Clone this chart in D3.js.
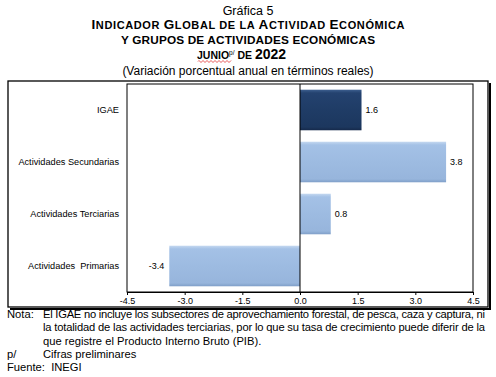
<!DOCTYPE html>
<html>
<head>
  <meta charset="utf-8">
  <title>IGAE junio 2022</title>
  <style>
    body { margin: 0; background: #fff; }
    svg { display: block; font-family: "Liberation Sans", Arial, sans-serif; }
  </style>
</head>
<body>
  <svg id="chart" width="496" height="377"></svg>

  <script src="https://d3js.org/d3.v7.min.js"></script>
  <script>
    // datos
    const categories = ["IGAE", "Actividades Secundarias", "Actividades Terciarias", "Actividades  Primarias"];
    const values = [1.6, 3.8, 0.8, -3.4];
    const barColors = ["dark", "light", "light", "light"];
    const tickValues = [-4.5, -3.0, -1.5, 0.0, 1.5, 3.0, 4.5];

    const fmt = d => d.toFixed(1);

    const svg = d3.select("#chart");
    const defs = svg.append("defs");

    // degradados de las barras
    function grad(id, stops) {
      const g = defs.append("linearGradient").attr("id", id)
        .attr("x1", 0).attr("y1", 0).attr("x2", 0).attr("y2", 1);
      stops.forEach(s => g.append("stop").attr("offset", s[0]).attr("stop-color", s[1]));
    }
    grad("g-light", [[0, "#c4d8f0"], [0.08, "#a4c1e6"], [0.5, "#9dbbe1"], [0.92, "#97b5dc"], [1, "#7f9fc8"]]);
    grad("g-dark", [[0, "#3d5f8f"], [0.08, "#24426f"], [0.5, "#1f3c66"], [0.92, "#1c375e"], [1, "#15294a"]]);

    // titulo
    const cx = 248;
    svg.append("text").attr("x", cx).attr("y", 15).attr("text-anchor", "middle")
      .attr("font-size", 12.5).text("Gráfica 5");

    const t2 = svg.append("text").attr("x", cx).attr("y", 29).attr("text-anchor", "middle")
      .attr("font-weight", "bold").attr("textLength", 313).attr("lengthAdjust", "spacing");
    [["I", 13.5], ["NDICADOR ", 11], ["G", 13.5], ["LOBAL DE LA ", 11], ["A", 13.5],
     ["CTIVIDAD ", 11], ["E", 13.5], ["CONÓMICA", 11]].forEach(p =>
      t2.append("tspan").attr("font-size", p[1]).text(p[0]));

    svg.append("text").attr("x", cx).attr("y", 44).attr("text-anchor", "middle")
      .attr("font-weight", "bold").attr("font-size", 11.8)
      .attr("textLength", 254).attr("lengthAdjust", "spacing")
      .text("Y GRUPOS DE ACTIVIDADES ECONÓMICAS");

    const t4 = svg.append("text").attr("x", 197).attr("y", 59).attr("font-weight", "bold");
    t4.append("tspan").attr("font-size", 10.5).text("JUNIO");
    t4.append("tspan").attr("font-size", 6.5).attr("font-weight", "normal").attr("dy", -4).text("p/");
    t4.append("tspan").attr("font-size", 10.5).attr("dy", 4).text(" DE ");
    t4.append("tspan").attr("font-size", 14).text("2022");

    // subrayado ondulado rojo bajo JUNIO
    let wave = "M198,61.5";
    for (let x = 198; x < 232; x += 2) wave += "L" + (x + 1) + "," + ((x / 2) % 2 ? 60.5 : 62.5);
    svg.append("path").attr("d", wave).attr("fill", "none").attr("stroke", "#e03030").attr("stroke-width", 0.8);

    svg.append("text").attr("x", cx).attr("y", 75).attr("text-anchor", "middle")
      .attr("font-size", 12).text("(Variación porcentual anual en términos reales)");

    // marco exterior con sombra
    svg.append("path").attr("d", "M490,83V309H10").attr("fill", "none")
      .attr("stroke", "#000").attr("stroke-width", 2);
    svg.append("rect").attr("x", 8).attr("y", 81).attr("width", 480).attr("height", 226)
      .attr("fill", "#fff").attr("stroke", "#000").attr("stroke-width", 1.3);

    // escalas
    const x = d3.scaleLinear().domain([-4.5, 4.5]).range([127, 473]);
    const y = d3.scaleBand().domain(categories).range([84, 292])
      .paddingInner(0.22).paddingOuter(0.11);

    // area de trazado
    svg.append("rect").attr("x", 127).attr("y", 84).attr("width", 346).attr("height", 208)
      .attr("fill", "none").attr("stroke", "#000").attr("stroke-width", 1);

    // barras
    svg.selectAll(".bar").data(categories).enter().append("rect")
      .attr("class", "bar")
      .attr("x", (d, i) => x(Math.min(0, values[i])))
      .attr("y", d => y(d))
      .attr("width", (d, i) => Math.abs(x(values[i]) - x(0)))
      .attr("height", y.bandwidth())
      .attr("fill", (d, i) => barColors[i] === "dark" ? "url(#g-dark)" : "url(#g-light)");

    // linea del cero
    svg.append("line").attr("x1", x(0)).attr("x2", x(0)).attr("y1", 84).attr("y2", 292)
      .attr("stroke", "#000").attr("stroke-width", 1);

    // etiquetas de valor
    svg.selectAll(".val").data(categories).enter().append("text")
      .attr("class", "val")
      .attr("x", (d, i) => values[i] >= 0 ? x(values[i]) + 4 : x(values[i]) - 5)
      .attr("y", d => y(d) + y.bandwidth() / 2)
      .attr("dy", "0.35em")
      .attr("text-anchor", (d, i) => values[i] >= 0 ? "start" : "end")
      .attr("font-size", 9)
      .text((d, i) => fmt(values[i]));

    // etiquetas de categoria
    svg.selectAll(".cat").data(categories).enter().append("text")
      .attr("class", "cat")
      .attr("x", 119)
      .attr("y", d => y(d) + y.bandwidth() / 2)
      .attr("dy", "0.35em")
      .attr("text-anchor", "end")
      .attr("font-size", 9.2)
      .style("white-space", "pre")
      .text(d => d);

    // eje x
    const gx = svg.append("g")
      .attr("transform", "translate(0,292)")
      .call(d3.axisBottom(x).tickValues(tickValues).tickFormat(fmt)
        .tickSize(3).tickPadding(3));
    gx.select(".domain").attr("stroke", "#000");
    gx.selectAll("text").attr("font-size", 9).attr("font-family", null).attr("fill", "#000");

    // notas
    const notes = svg.append("g").attr("font-size", 11.2);
    notes.append("text").attr("x", 7).attr("y", 318).text("Nota:");
    notes.append("text").attr("x", 43).attr("y", 318)
      .attr("textLength", 442).attr("lengthAdjust", "spacing")
      .text("El IGAE no incluye los subsectores de aprovechamiento forestal, de pesca, caza y captura, ni");
    notes.append("text").attr("x", 43).attr("y", 331)
      .attr("textLength", 442).attr("lengthAdjust", "spacing")
      .text("la totalidad de las actividades terciarias, por lo que su tasa de crecimiento puede diferir de la");
    notes.append("text").attr("x", 43).attr("y", 345)
      .text("que registre el Producto Interno Bruto (PIB).");
    notes.append("text").attr("x", 7).attr("y", 358).text("p/");
    notes.append("text").attr("x", 43).attr("y", 358).text("Cifras preliminares");
    notes.append("text").attr("x", 7).attr("y", 371).style("white-space", "pre").text("Fuente:  INEGI");
  </script>
</body>
</html>
